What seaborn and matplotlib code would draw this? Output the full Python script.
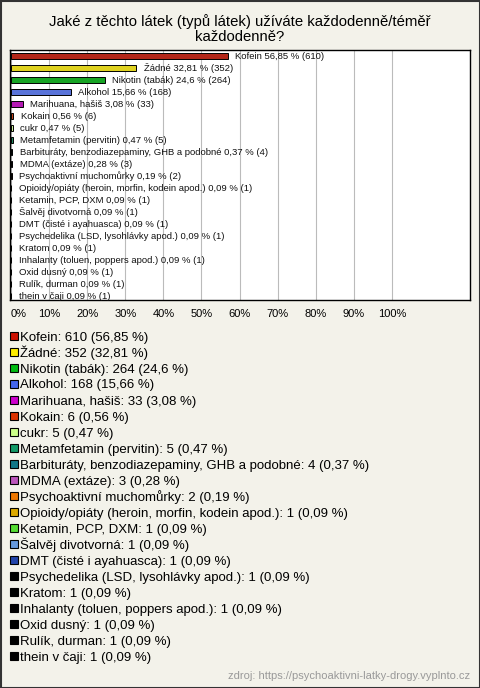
import matplotlib
matplotlib.use("Agg")
import matplotlib.pyplot as plt
import seaborn as sns
import pandas as pd
from matplotlib.patches import Rectangle

categories = [
    "Kofein", "Žádné", "Nikotin (tabák)", "Alkohol", "Marihuana, hašiš",
    "Kokain", "cukr", "Metamfetamin (pervitin)",
    "Barbituráty, benzodiazepaminy, GHB a podobné", "MDMA (extáze)",
    "Psychoaktivní muchomůrky", "Opioidy/opiáty (heroin, morfin, kodein apod.)",
    "Ketamin, PCP, DXM", "Šalvěj divotvorná", "DMT (čisté i ayahuasca)",
    "Psychedelika (LSD, lysohlávky apod.)", "Kratom",
    "Inhalanty (toluen, poppers apod.)", "Oxid dusný", "Rulík, durman",
    "thein v čaji",
]
counts = [610, 352, 264, 168, 33, 6, 5, 5, 4, 3, 2, 1, 1, 1, 1, 1, 1, 1, 1, 1, 1]
percents = [56.85, 32.81, 24.6, 15.66, 3.08, 0.56, 0.47, 0.47, 0.37, 0.28, 0.19,
            0.09, 0.09, 0.09, 0.09, 0.09, 0.09, 0.09, 0.09, 0.09, 0.09]
colors = ["#cc1100", "#ffee00", "#00bb11", "#4466ee", "#cc00cc", "#dd3300",
          "#ccff88", "#119966", "#117788", "#bb55bb", "#ee7700", "#ddaa00",
          "#55dd33", "#6699dd", "#2244aa", "#000000", "#000000", "#000000",
          "#000000", "#000000", "#000000"]
xticks = [0, 10, 20, 30, 40, 50, 60, 70, 80, 90, 100]
title = "Jaké z těchto látek (typů látek) užíváte každodenně/téměř\nkaždodenně?"
source = "zdroj: https://psychoaktivni-latky-drogy.vyplnto.cz"

def fmt(v):
    s = ("%.2f" % v).rstrip("0").rstrip(".")
    return s.replace(".", ",")

df = pd.DataFrame({"cat": categories, "pct": percents})

W, H = 480, 688
bg = "#f3f2ea"
sns.set_style("white")
plt.rcParams["font.family"] = ["Liberation Sans", "DejaVu Sans"]
plt.rcParams["text.color"] = "black"
plt.rcParams["xtick.color"] = "black"
fig = plt.figure(figsize=(W / 100, H / 100), dpi=100, facecolor=bg)

ax = fig.add_axes([10 / W, 1 - 300 / H, (470 - 10) / W, (300 - 50) / H])
sns.barplot(data=df, y="cat", x="pct", hue="cat", palette=colors, orient="h",
            dodge=False, legend=False, ax=ax, width=0.5,
            edgecolor="black", linewidth=0.7)
ax.set_facecolor("white")
ax.set_xlim(-0.26, 120.5)
ax.set_ylim(20.33, -0.5)
ax.set_xticks(xticks)
ax.set_xticklabels([f"{t}%" for t in xticks], fontsize=8)
ax.get_xticklabels()[0].set_horizontalalignment("left")
ax.tick_params(axis="x", length=0, pad=6.5)
ax.set_yticks([])
ax.set_xlabel("")
ax.set_ylabel("")
ax.grid(axis="x", color="#bbbbbb", linewidth=0.8)
ax.set_axisbelow(True)
for s in ax.spines.values():
    s.set_color("black")
    s.set_linewidth(1)

for i, (c, p, n) in enumerate(zip(categories, percents, counts)):
    ax.text(p + 2.0, i, f"{c} {fmt(p)} % ({n})", fontsize=6.8,
            va="center", ha="left", color="#111111")

fig.text(0.5, 1 - 29 / H, title, ha="center", va="center", fontsize=10.7,
         linespacing=1.05)

# legend
for i, (c, p, n, col) in enumerate(zip(categories, percents, counts, colors)):
    yc = 336 + i * 16.0
    fig.patches.append(Rectangle((9.5 / W, 1 - (yc + 4) / H), 8 / W, 8 / H,
                                 transform=fig.transFigure, facecolor=col,
                                 edgecolor="black", linewidth=0.8))
    fig.text(20 / W, 1 - (yc + 4.5) / H, f"{c}: {n} ({fmt(p)} %)", fontsize=9.5,
             va="baseline", ha="left")

fig.text(470 / W, 1 - 676 / H, source, ha="right", va="center", fontsize=8,
         color="#999999")

fig.patches.append(Rectangle((0.5 / W, 0.5 / H), (W - 1) / W, (H - 1) / H,
                             transform=fig.transFigure, facecolor="none",
                             edgecolor="#333333", linewidth=1.5))

fig.savefig("out.png", dpi=100, facecolor=bg)
